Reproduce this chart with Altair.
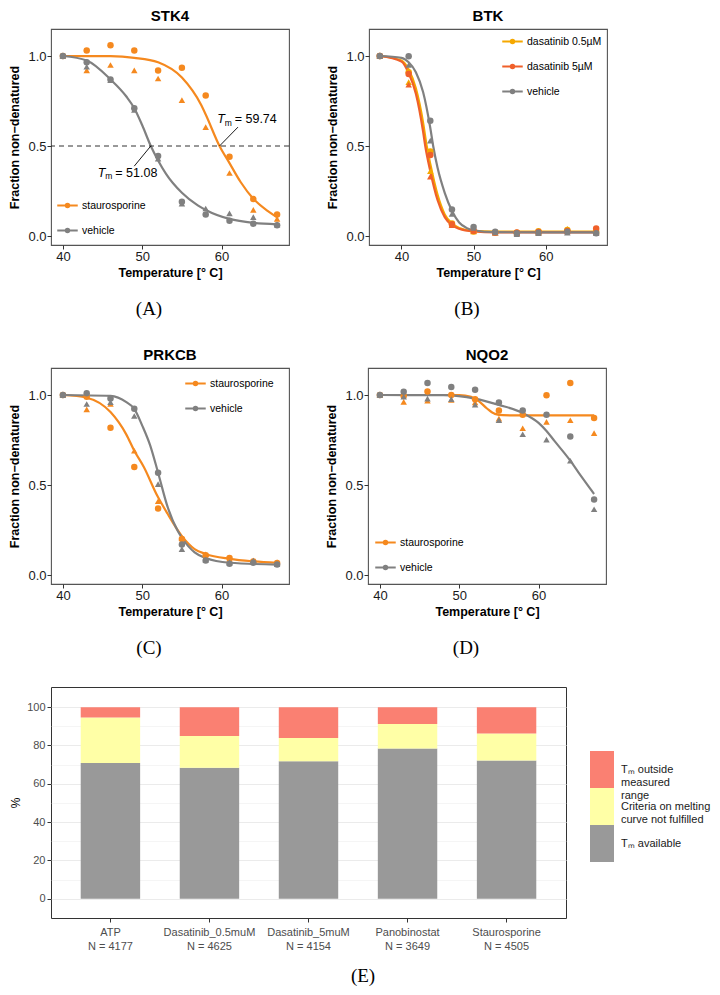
import altair as alt
import pandas as pd

FONT = "Liberation Sans"
SERIF = "Liberation Serif"

ORANGE = "#F5891F"
GREY = "#808080"
AMBER = "#F5A800"
REDOR = "#F0602A"

# ---------------- melting-curve data ----------------
temps = [40, 43, 46, 49, 52, 55, 58, 61, 64, 67]
temps_btk = [37, 41, 44, 47, 50, 53, 56, 59, 63, 67]

# STK4
stk4_stau_rep1 = [1.00, 1.03, 1.06, 1.03, 0.92, 0.935, 0.78, 0.44, 0.205, 0.12]
stk4_stau_rep2 = [1.00, 0.92, 0.95, 0.92, 0.875, 0.755, 0.605, 0.35, 0.145, 0.095]
stk4_veh_rep1 = [1.00, 0.965, 0.87, 0.71, 0.445, 0.19, 0.12, 0.085, 0.068, 0.06]
stk4_veh_rep2 = [1.00, 0.94, 0.865, 0.70, 0.43, 0.18, 0.153, 0.126, 0.105, 0.063]
stk4_stau_fit_t = [40, 46, 49, 52, 55, 57.4, 58, 59.74, 61, 62.4, 64, 65.8, 67]
stk4_stau_fit_v = [1.0, 0.999, 0.99, 0.965, 0.88, 0.73, 0.675, 0.5, 0.405, 0.3, 0.207, 0.14, 0.105]
stk4_veh_fit_t = [40, 43, 46, 48, 49, 50, 51.08, 52, 53, 55, 57, 58, 61, 64, 67]
stk4_veh_fit_v = [1.0, 0.975, 0.87, 0.775, 0.71, 0.615, 0.5, 0.42, 0.345, 0.24, 0.17, 0.145, 0.095, 0.073, 0.065]
stk4_tm = [59.74, 51.08]
stk4_tm_text = ["= 59.74", "= 51.08"]
stk4_lead_t = [62.07, 48.99]
stk4_lead_v = [0.605, 0.388]
stk4_label_t = [59.45, 44.4]
stk4_label_v = [0.65, 0.351]

# BTK
btk_d05_rep1 = [1.0, 0.91, 0.47, 0.07, 0.025, 0.02, 0.018, 0.027, 0.033, 0.024]
btk_d05_rep2 = [1.0, 0.855, 0.36, 0.064, 0.025, 0.018, 0.015, 0.02, 0.04, 0.022]
btk_d5_rep1 = [1.0, 0.90, 0.45, 0.065, 0.03, 0.02, 0.02, 0.022, 0.028, 0.042]
btk_d5_rep2 = [1.0, 0.84, 0.33, 0.06, 0.028, 0.018, 0.016, 0.02, 0.025, 0.02]
btk_veh_rep1 = [1.0, 0.998, 0.64, 0.147, 0.05, 0.024, 0.015, 0.018, 0.024, 0.015]
btk_veh_rep2 = [1.0, 0.95, 0.53, 0.123, 0.045, 0.02, 0.01, 0.015, 0.018, 0.015]
btk_d05_fit_t = [37, 40, 41, 42, 43, 43.5, 44, 45, 46, 47, 48, 50, 53, 67]
btk_d05_fit_v = [1.0, 0.975, 0.925, 0.82, 0.63, 0.5, 0.4, 0.23, 0.12, 0.07, 0.045, 0.028, 0.025, 0.025]
btk_d5_fit_t = [37, 40, 41, 42, 43, 43.3, 44, 45, 46, 47, 48, 50, 53, 67]
btk_d5_fit_v = [1.0, 0.97, 0.905, 0.79, 0.58, 0.5, 0.36, 0.2, 0.105, 0.06, 0.04, 0.025, 0.02, 0.02]
btk_veh_fit_t = [37, 40, 41, 42, 43, 44, 44.4, 45, 46, 47, 48, 49, 50, 53, 67]
btk_veh_fit_v = [1.0, 0.99, 0.965, 0.91, 0.80, 0.6, 0.5, 0.38, 0.24, 0.14, 0.075, 0.045, 0.032, 0.021, 0.02]

# PRKCB
prkcb_stau_rep1 = [1.0, 0.99, 0.818, 0.60, 0.37, 0.20, 0.11, 0.095, 0.075, 0.067]
prkcb_stau_rep2 = [1.0, 0.92, 0.95, 0.69, 0.41, 0.207, 0.115, 0.09, 0.08, 0.07]
prkcb_veh_rep1 = [1.0, 1.01, 0.98, 0.923, 0.568, 0.17, 0.08, 0.063, 0.068, 0.058]
prkcb_veh_rep2 = [1.0, 0.95, 0.96, 0.883, 0.505, 0.144, 0.085, 0.07, 0.08, 0.06]
prkcb_stau_fit_t = [40, 43, 46, 48, 49, 50.2, 51.9, 53.2, 55, 56.6, 58, 61, 64, 67]
prkcb_stau_fit_v = [1.0, 0.985, 0.905, 0.78, 0.69, 0.6, 0.44, 0.34, 0.216, 0.144, 0.117, 0.09, 0.076, 0.068]
prkcb_veh_fit_t = [40, 46, 48, 49, 50, 51, 52, 53.2, 54.5, 55, 56.6, 58, 61, 67]
prkcb_veh_fit_v = [1.0, 0.995, 0.96, 0.923, 0.83, 0.72, 0.568, 0.378, 0.243, 0.207, 0.126, 0.094, 0.068, 0.058]

# NQO2
nqo2_stau_rep1 = [1.0, 0.995, 1.02, 1.0, 0.977, 0.914, 0.89, 0.998, 1.067, 0.872]
nqo2_stau_rep2 = [1.0, 0.962, 0.968, 0.973, 0.959, 0.869, 0.815, 0.851, 0.86, 0.788]
nqo2_veh_rep1 = [1.0, 1.018, 1.067, 1.045, 1.029, 0.959, 0.914, 0.89, 0.77, 0.419]
nqo2_veh_rep2 = [1.0, 0.99, 0.98, 0.977, 0.946, 0.86, 0.782, 0.752, 0.635, 0.365]
nqo2_stau_fit_t = [40, 50, 51.5, 52.5, 53.5, 54.5, 55.5, 57, 67]
nqo2_stau_fit_v = [1.0, 1.0, 0.99, 0.965, 0.925, 0.895, 0.888, 0.887, 0.887]
nqo2_veh_fit_t = [40, 48, 52, 55, 58, 60, 61, 62, 64, 65, 66, 67]
nqo2_veh_fit_v = [1.0, 0.999, 0.98, 0.945, 0.9, 0.845, 0.8, 0.745, 0.635, 0.572, 0.51, 0.45]

# ---------------- bar chart data ----------------
conditions = ["ATP", "Dasatinib_0.5muM", "Dasatinib_5muM", "Panobinostat", "Staurosporine"]
counts = [4177, 4625, 4154, 3649, 4505]
tm_available = [70.8, 68.4, 71.8, 78.4, 72.1]
criteria_failed = [23.8, 16.6, 12.1, 12.8, 14.1]
tm_outside = [5.4, 15.0, 16.1, 8.8, 13.8]
status_keys = ["outside", "criteria", "available"]
status_labels = ["Tₘ outside|measured|range", "Criteria on melting|curve not fulfilled", "Tₘ available"]
status_colors = ["#FA8072", "#FFFFA6", "#999999"]

LEG_PATH = "M-1,0 L1,0 M-0.16,0 A0.16,0.16 0 1 1 0.16,0 A0.16,0.16 0 1 1 -0.16,0 Z"

W, H = 238, 216


def pts_frame(t, series):
    rows = []
    for cond, rep, vals in series:
        for ti, vi in zip(t, vals):
            rows.append({"T": ti, "v": vi, "cond": cond, "rep": rep})
    return pd.DataFrame(rows)


def fit_frame(fits):
    rows = []
    for cond, tt, vv in fits:
        for ti, vi in zip(tt, vv):
            rows.append({"T": ti, "v": vi, "cond": cond})
    return pd.DataFrame(rows)


def curve_panel(title, sub, pts, fits, conds, colors, xdom, leg_x, leg_y, extra=()):
    xs = alt.Scale(domain=xdom, nice=False, zero=False)
    ys = alt.Scale(domain=[-0.05, 1.15], nice=False, zero=False)
    xax = alt.Axis(values=[40, 50, 60], title="Temperature [° C]", titleFont=FONT,
                   titleFontSize=12.5, titleFontWeight="bold", titleColor="black",
                   labelFont=FONT, labelFontSize=13, labelColor="#1a1a1a",
                   tickSize=4, tickColor="#333333", domain=False, grid=False,
                   labelPadding=1, titlePadding=3)
    yax = alt.Axis(values=[0, 0.5, 1.0], format=".1f", title="Fraction non−denatured",
                   titleFont=FONT, titleFontSize=12.5, titleFontWeight="bold",
                   titleColor="black", labelFont=FONT, labelFontSize=13,
                   labelColor="#1a1a1a", tickSize=4, tickColor="#333333",
                   domain=False, grid=False, labelPadding=1, titlePadding=6)
    cs = alt.Scale(domain=conds, range=colors)
    leg = alt.Legend(orient="none", legendX=leg_x, legendY=leg_y, title=None,
                     symbolType=LEG_PATH, symbolSize=420, symbolStrokeWidth=2.2,
                     labelFont=FONT, labelFontSize=10.5, labelColor="black",
                     labelOffset=3, rowPadding=7, padding=0)
    line = alt.Chart(fits).mark_line(strokeWidth=2.2, interpolate="monotone").encode(
        x=alt.X("T:Q", scale=xs, axis=xax),
        y=alt.Y("v:Q", scale=ys, axis=yax),
        color=alt.Color("cond:N", scale=cs, legend=leg),
    )
    points = alt.Chart(pts).mark_point(filled=True, size=42, opacity=1).encode(
        x="T:Q",
        y="v:Q",
        color=alt.Color("cond:N", scale=cs, legend=leg),
        shape=alt.Shape("rep:N", scale=alt.Scale(domain=["1", "2"], range=["circle", "triangle-up"]),
                        legend=None),
    )
    lab = alt.Chart(pd.DataFrame({"s": [sub]})).mark_text(
        font=SERIF, fontSize=19, color="black", baseline="middle", align="center"
    ).encode(text="s:N", x=alt.value(W / 2 - 21), y=alt.value(H + 64))
    return alt.layer(line, points, *extra, lab).properties(
        width=W, height=H,
        title=alt.TitleParams(title, font=FONT, fontSize=15, fontWeight="bold",
                              color="black", anchor="middle", offset=5),
        view=alt.ViewBackground(stroke="#555555", strokeWidth=1.1),
    )


# ---- STK4 ----
stk4_pts = pts_frame(temps, [
    ("staurosporine", "1", stk4_stau_rep1), ("staurosporine", "2", stk4_stau_rep2),
    ("vehicle", "1", stk4_veh_rep1), ("vehicle", "2", stk4_veh_rep2)])
stk4_fit = fit_frame([("staurosporine", stk4_stau_fit_t, stk4_stau_fit_v),
                      ("vehicle", stk4_veh_fit_t, stk4_veh_fit_v)])
ann = pd.DataFrame({"tm": stk4_tm, "half": [0.5, 0.5], "lx": stk4_lead_t, "ly": stk4_lead_v,
                    "tx": stk4_label_t, "ty": stk4_label_v, "val": stk4_tm_text})
half_line = alt.Chart(pd.DataFrame({"h": [0.5]})).mark_rule(
    color="#333333", strokeDash=[5, 4], strokeWidth=1).encode(y="h:Q")
leaders = alt.Chart(ann).mark_rule(color="black", strokeWidth=0.9).encode(
    x="tm:Q", y="half:Q", x2="lx:Q", y2="ly:Q")
t_italic = alt.Chart(ann).mark_text(text="T", font=FONT, fontStyle="italic", fontSize=12.5,
                                    align="left", baseline="middle", color="black").encode(
    x="tx:Q", y="ty:Q")
t_sub = alt.Chart(ann).mark_text(text="m", font=FONT, fontSize=8.5, align="left",
                                 baseline="middle", dx=7.5, dy=3.5, color="black").encode(
    x="tx:Q", y="ty:Q")
t_val = alt.Chart(ann).mark_text(font=FONT, fontSize=12.5, align="left", baseline="middle",
                                 dx=17.5, color="black").encode(x="tx:Q", y="ty:Q", text="val:N")

panel_a = curve_panel("STK4", "(A)", stk4_pts, stk4_fit, ["staurosporine", "vehicle"],
                      [ORANGE, GREY], [38.5, 68.5], 5, H - 51,
                      extra=(half_line, leaders, t_italic, t_sub, t_val))

# ---- BTK ----
btk_conds = ["dasatinib 0.5µM", "dasatinib 5µM", "vehicle"]
btk_pts = pts_frame(temps_btk, [
    (btk_conds[0], "1", btk_d05_rep1), (btk_conds[0], "2", btk_d05_rep2),
    (btk_conds[1], "1", btk_d5_rep1), (btk_conds[1], "2", btk_d5_rep2),
    (btk_conds[2], "1", btk_veh_rep1), (btk_conds[2], "2", btk_veh_rep2)])
btk_fit = fit_frame([(btk_conds[0], btk_d05_fit_t, btk_d05_fit_v),
                     (btk_conds[1], btk_d5_fit_t, btk_d5_fit_v),
                     (btk_conds[2], btk_veh_fit_t, btk_veh_fit_v)])
panel_b = curve_panel("BTK", "(B)", btk_pts, btk_fit, btk_conds, [AMBER, REDOR, GREY],
                      [35.5, 68.5], 132, 1)

# ---- PRKCB ----
prkcb_pts = pts_frame(temps, [
    ("staurosporine", "1", prkcb_stau_rep1), ("staurosporine", "2", prkcb_stau_rep2),
    ("vehicle", "1", prkcb_veh_rep1), ("vehicle", "2", prkcb_veh_rep2)])
prkcb_fit = fit_frame([("staurosporine", prkcb_stau_fit_t, prkcb_stau_fit_v),
                       ("vehicle", prkcb_veh_fit_t, prkcb_veh_fit_v)])
panel_c = curve_panel("PRKCB", "(C)", prkcb_pts, prkcb_fit, ["staurosporine", "vehicle"],
                      [ORANGE, GREY], [38.5, 68.5], 133, 4)

# ---- NQO2 ----
nqo2_pts = pts_frame(temps, [
    ("staurosporine", "1", nqo2_stau_rep1), ("staurosporine", "2", nqo2_stau_rep2),
    ("vehicle", "1", nqo2_veh_rep1), ("vehicle", "2", nqo2_veh_rep2)])
nqo2_fit = fit_frame([("staurosporine", nqo2_stau_fit_t, nqo2_stau_fit_v),
                      ("vehicle", nqo2_veh_fit_t, nqo2_veh_fit_v)])
panel_d = curve_panel("NQO2", "(D)", nqo2_pts, nqo2_fit, ["staurosporine", "vehicle"],
                      [ORANGE, GREY], [38.5, 68.5], 6, H - 53)

# ---- bar chart (E) ----
EW, EH = 515, 231
bar_rows = []
bar_labels = []
for i, c in enumerate(conditions):
    lab = f"{c}|N = {counts[i]}"
    bar_labels.append(lab)
    for key, vals, o in [("available", tm_available, 0), ("criteria", criteria_failed, 1),
                         ("outside", tm_outside, 2)]:
        bar_rows.append({"lab": lab, "cat": key, "pct": vals[i], "ord": o})
bar_df = pd.DataFrame(bar_rows)

major = "datum.value % 20 === 0"
bars = alt.Chart(bar_df).mark_bar().encode(
    x=alt.X("lab:N", sort=bar_labels,
            scale=alt.Scale(paddingInner=0.4, paddingOuter=0.3),
            axis=alt.Axis(title=None, labelExpr="split(datum.label, '|')", labelAngle=0,
                          labelFont=FONT, labelFontSize=11, labelColor="#4D4D4D",
                          labelLineHeight=14, tickSize=4, tickColor="#333333",
                          domain=False, labelPadding=4)),
    y=alt.Y("pct:Q", stack="zero", scale=alt.Scale(domain=[-10, 110.5], nice=False),
            axis=alt.Axis(values=list(range(0, 101, 10)),
                          labelExpr=f"{major} ? datum.label : ''",
                          title="%", titleFont=FONT, titleFontSize=12, titleFontWeight="normal",
                          titleColor="black", titlePadding=4,
                          labelFont=FONT, labelFontSize=11, labelColor="#4D4D4D",
                          tickSize=4, tickColor="#333333", labelPadding=2, domain=False,
                          gridColor="#EBEBEB",
                          gridWidth={"condition": {"test": major, "value": 1.1}, "value": 0.5},
                          tickOpacity={"condition": {"test": major, "value": 1}, "value": 0})),
    color=alt.Color("cat:N", scale=alt.Scale(domain=status_keys, range=status_colors), legend=None),
    order=alt.Order("ord:Q", sort="ascending"),
)
e_lab = alt.Chart(pd.DataFrame({"s": ["(E)"]})).mark_text(
    font=SERIF, fontSize=19, color="black", baseline="middle", align="center"
).encode(text="s:N", x=alt.value(312), y=alt.value(EH + 58))
panel_e = alt.layer(bars, e_lab).properties(
    width=EW, height=EH, view=alt.ViewBackground(stroke="#333333", strokeWidth=1))

leg_df = pd.DataFrame({"key": status_keys, "label": status_labels})
leg_y = alt.Y("key:N", sort=status_keys,
              scale=alt.Scale(domain=status_keys, paddingInner=0, paddingOuter=0,
                              range=[64, 175]),
              axis=None)
leg_rect = alt.Chart(leg_df).mark_rect().encode(
    y=leg_y, x=alt.value(0), x2=alt.value(24),
    color=alt.Color("key:N", scale=alt.Scale(domain=status_keys, range=status_colors), legend=None))
leg_text = alt.Chart(leg_df).mark_text(
    align="left", baseline="middle", lineBreak="|", lineHeight=13, font=FONT,
    fontSize=11, color="#1a1a1a").encode(y=leg_y, x=alt.value(31), text="label:N")
legend_e = alt.layer(leg_rect, leg_text).properties(
    width=90, height=EH, view=alt.ViewBackground(stroke="transparent"))


def indep(ch):
    return ch.resolve_scale(color="independent", shape="independent",
                            x="independent", y="independent").resolve_legend(
        color="independent", shape="independent")


row1 = indep(alt.hconcat(panel_a, panel_b, spacing=35))
row2 = indep(alt.hconcat(panel_c, panel_d, spacing=35))
row3 = indep(alt.hconcat(panel_e, legend_e, spacing=22))

chart = indep(alt.vconcat(row1, row2, row3, spacing=27)).properties(padding=0).configure(
    background="white")

chart.save("out.html", embed_options={"renderer": "svg", "actions": False})
